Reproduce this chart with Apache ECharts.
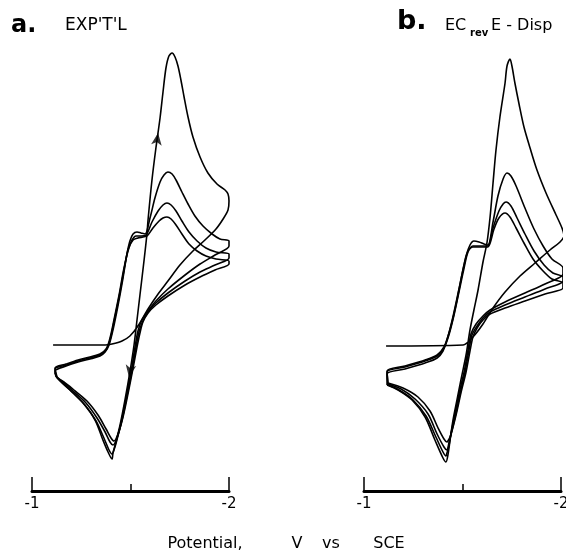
<!DOCTYPE html>
<html><head><meta charset="utf-8">
<script src="https://cdn.jsdelivr.net/npm/echarts@6/dist/echarts.min.js"></script>
<style>html,body{margin:0;padding:0;background:#fff}#c{width:566px;height:555px}</style>
</head><body><div id="c"></div>
<script>
// x: potential (V vs SCE), y: current (arbitrary units, cathodic up)
const potentialTicks = [-1, -2];

// Panel a: experimental
const expScan1 = [[-1.107,0],[-1.371,0],[-1.406,1],[-1.457,4],[-1.497,9],[-1.538,19],[-1.589,36],[-1.640,51],[-1.690,64],[-1.751,80],[-1.812,93],[-1.878,105],[-1.934,116],[-1.970,126],[-1.995,135],[-2.000,144],[-1.995,151],[-1.980,155],[-1.939,161],[-1.893,172],[-1.853,188],[-1.817,208],[-1.792,228],[-1.772,248],[-1.756,265],[-1.741,279],[-1.726,288],[-1.711,292],[-1.695,289],[-1.680,277],[-1.665,253],[-1.650,227],[-1.629,197],[-1.609,165],[-1.589,125],[-1.584,112],[-1.569,85],[-1.548,50],[-1.533,25],[-1.518,0],[-1.497,-27],[-1.472,-55],[-1.447,-80],[-1.426,-97],[-1.411,-108],[-1.406,-114],[-1.386,-107],[-1.360,-95],[-1.320,-75],[-1.259,-58],[-1.193,-45],[-1.142,-36],[-1.117,-29]];
const expCycle2 = [[-1.117,-29],[-1.117,-26],[-1.173,-21],[-1.234,-17],[-1.294,-14],[-1.345,-11],[-1.371,-7],[-1.391,0],[-1.411,15],[-1.437,40],[-1.462,67],[-1.482,91],[-1.497,104],[-1.513,111],[-1.533,113],[-1.553,112],[-1.574,111],[-1.599,127],[-1.624,147],[-1.650,163],[-1.670,170],[-1.690,173],[-1.711,171],[-1.731,165],[-1.761,153],[-1.792,141],[-1.827,129],[-1.868,119],[-1.914,111],[-1.954,106],[-2.000,104],
  [-2.000,99],[-1.929,90],[-1.853,81],[-1.777,70],[-1.690,56],[-1.629,44],[-1.589,34],[-1.558,25],[-1.538,14],[-1.523,-2],[-1.503,-27],[-1.477,-54],[-1.452,-78],[-1.431,-95],[-1.416,-105],[-1.406,-109],[-1.391,-105],[-1.365,-93],[-1.325,-76],[-1.269,-60],[-1.203,-47],[-1.152,-37],[-1.122,-32]];
const expCycle3 = [[-1.122,-32],[-1.117,-24],[-1.173,-20],[-1.234,-16],[-1.294,-13],[-1.345,-10],[-1.376,-5],[-1.396,5],[-1.416,23],[-1.442,48],[-1.467,75],[-1.487,95],[-1.508,105],[-1.528,109],[-1.553,109],[-1.579,110],[-1.609,123],[-1.640,134],[-1.665,140],[-1.685,142],[-1.706,140],[-1.731,134],[-1.761,124],[-1.797,113],[-1.838,104],[-1.883,97],[-1.934,93],[-2.000,91],
  [-2.000,87],[-1.929,80],[-1.853,73],[-1.777,64],[-1.690,52],[-1.629,42],[-1.589,33],[-1.563,24],[-1.543,13],[-1.528,-2],[-1.508,-25],[-1.482,-51],[-1.457,-75],[-1.437,-90],[-1.421,-98],[-1.411,-100],[-1.396,-97],[-1.371,-87],[-1.330,-73],[-1.274,-58],[-1.208,-46],[-1.157,-37],[-1.127,-32]];
const expCycle4 = [[-1.127,-32],[-1.117,-23],[-1.173,-19],[-1.234,-15],[-1.294,-12],[-1.345,-9],[-1.376,-4],[-1.396,7],[-1.416,25],[-1.442,50],[-1.467,77],[-1.492,97],[-1.513,105],[-1.538,107],[-1.563,108],[-1.584,109],[-1.614,117],[-1.645,124],[-1.665,127],[-1.685,128],[-1.706,126],[-1.731,120],[-1.761,111],[-1.797,101],[-1.838,94],[-1.883,89],[-1.934,86],[-2.000,84],
  [-2.000,81],[-1.929,75],[-1.853,68],[-1.777,60],[-1.690,49],[-1.629,40],[-1.589,32],[-1.563,23],[-1.548,12],[-1.533,-2],[-1.513,-23],[-1.487,-49],[-1.462,-72],[-1.442,-86],[-1.426,-94],[-1.416,-96],[-1.401,-93],[-1.376,-84],[-1.335,-70],[-1.279,-56],[-1.213,-45],[-1.162,-37],[-1.127,-33]];
const expArrows = [[-1.640,212],[-1.492,-32]];
const expArrowAngles = [-8, 170];

// Panel b: EC(rev)E-Disp simulation
const dispScan1 = [[-1.112,-1],[-1.503,0],[-1.553,8],[-1.604,21],[-1.655,37],[-1.716,53],[-1.792,69],[-1.868,82],[-1.944,95],[-1.995,103],[-2.015,109],[-2.005,117],[-1.975,130],[-1.924,152],[-1.878,175],[-1.843,197],[-1.812,218],[-1.787,241],[-1.766,262],[-1.751,279],[-1.741,286],[-1.726,279],[-1.716,262],[-1.690,228],[-1.670,195],[-1.655,162],[-1.640,128],[-1.624,102],[-1.604,83],[-1.579,55],[-1.558,35],[-1.538,15],[-1.518,-10],[-1.492,-35],[-1.472,-55],[-1.452,-75],[-1.437,-95],[-1.426,-110],[-1.416,-117],[-1.401,-113],[-1.360,-95],[-1.310,-72],[-1.244,-55],[-1.173,-45],[-1.117,-40]];
const dispCycle2 = [[-1.117,-40],[-1.117,-29],[-1.208,-24],[-1.310,-18],[-1.371,-13],[-1.401,-6],[-1.421,5],[-1.447,23],[-1.472,45],[-1.497,70],[-1.518,89],[-1.538,100],[-1.558,104],[-1.584,103],[-1.609,101],[-1.629,100],[-1.655,123],[-1.680,149],[-1.706,166],[-1.726,172],[-1.746,169],[-1.772,159],[-1.817,137],[-1.863,116],[-1.909,99],[-1.954,86],[-2.010,77],
  [-2.010,71],[-1.919,61],[-1.817,52],[-1.716,43],[-1.640,35],[-1.604,29],[-1.569,21],[-1.543,11],[-1.528,-5],[-1.508,-27],[-1.482,-49],[-1.462,-69],[-1.442,-88],[-1.431,-101],[-1.421,-108],[-1.416,-111],[-1.401,-107],[-1.365,-92],[-1.315,-71],[-1.249,-55],[-1.178,-45],[-1.122,-40]];
const dispCycle3 = [[-1.122,-40],[-1.117,-27],[-1.208,-22],[-1.310,-16],[-1.371,-11],[-1.406,-3],[-1.431,10],[-1.457,30],[-1.482,53],[-1.508,77],[-1.528,93],[-1.553,99],[-1.584,99],[-1.609,99],[-1.629,99],[-1.655,117],[-1.685,134],[-1.706,141],[-1.721,143],[-1.746,139],[-1.777,127],[-1.817,111],[-1.863,94],[-1.914,80],[-1.959,72],[-2.010,68],
  [-2.010,64],[-1.919,56],[-1.817,48],[-1.716,40],[-1.640,33],[-1.604,27],[-1.574,19],[-1.548,10],[-1.533,-5],[-1.513,-27],[-1.487,-49],[-1.467,-68],[-1.447,-85],[-1.431,-98],[-1.421,-105],[-1.406,-102],[-1.371,-89],[-1.325,-69],[-1.259,-54],[-1.188,-44],[-1.122,-39]];
const dispCycle4 = [[-1.122,-39],[-1.117,-26],[-1.208,-21],[-1.310,-15],[-1.371,-10],[-1.406,-2],[-1.431,12],[-1.457,33],[-1.482,56],[-1.508,80],[-1.528,94],[-1.553,98],[-1.584,98],[-1.609,98],[-1.629,98],[-1.660,116],[-1.685,127],[-1.716,132],[-1.741,128],[-1.772,117],[-1.812,102],[-1.858,86],[-1.909,74],[-1.954,66],[-2.010,62],
  [-2.010,57],[-1.919,51],[-1.817,44],[-1.716,37],[-1.640,31],[-1.604,25],[-1.574,17],[-1.553,8],[-1.538,-6],[-1.518,-27],[-1.492,-48],[-1.472,-66],[-1.452,-82],[-1.437,-92],[-1.426,-96],[-1.421,-97],[-1.406,-94],[-1.376,-83],[-1.335,-66],[-1.274,-52],[-1.198,-43],[-1.122,-38]];

const panelLabels = ['a.', 'b.'];
const panelTitles = ["EXP'T'L", 'EC', 'rev', 'E - Disp'];
const axisTitleWords = ['Potential,', 'V', 'vs', 'SCE'];

const chart = echarts.init(document.getElementById('c'), null, {renderer: 'canvas'});
const FONT = '"DejaVu Sans", "Liberation Sans", sans-serif';

function lineSeries(data, idx) {
  return {
    type: 'line', xAxisIndex: idx, yAxisIndex: idx, data: data,
    symbol: 'none', smooth: 0.3, clip: false, silent: true,
    lineStyle: {color: '#000', width: 1.6}
  };
}

const xAxes = [0, 1].map(i => ({
  gridIndex: i, type: 'value', min: -2, max: -1, interval: 1, inverse: true,
  axisLine: {show: true, onZero: false, lineStyle: {color: '#000', width: 3}},
  axisTick: {show: true, inside: true, length: 14, lineStyle: {color: '#000', width: 1.5}},
  minorTick: {show: true, splitNumber: 2, length: 7, lineStyle: {color: '#000', width: 1.5}},
  splitLine: {show: false}, minorSplitLine: {show: false},
  axisLabel: {color: '#000', fontSize: 15, fontFamily: FONT, margin: 6,
    formatter: v => potentialTicks.includes(v) ? String(v) : ''}
}));
const yAxes = [0, 1].map(i => ({gridIndex: i, type: 'value', min: -146, max: 305, show: false}));

const option = {
  animation: false,
  backgroundColor: '#fff',
  grid: [
    {left: 32, width: 197, top: 40, height: 451, containLabel: false, outerBoundsMode: 'none'},
    {left: 364, width: 197, top: 40, height: 451, containLabel: false, outerBoundsMode: 'none'}
  ],
  xAxis: xAxes,
  yAxis: yAxes,
  series: [
    lineSeries(expScan1, 0), lineSeries(expCycle2, 0), lineSeries(expCycle3, 0), lineSeries(expCycle4, 0),
    lineSeries(dispScan1, 1), lineSeries(dispCycle2, 1), lineSeries(dispCycle3, 1), lineSeries(dispCycle4, 1),
    {
      type: 'scatter', xAxisIndex: 0, yAxisIndex: 0, silent: true,
      data: expArrows.map((p, k) => ({value: p, symbolRotate: expArrowAngles[k]})),
      symbol: 'arrow', symbolSize: [8, 12], itemStyle: {color: '#000'}
    }
  ],
  graphic: [
    {type: 'text', style: {x: 11, y: 26, text: panelLabels[0], font: 'bold 24px ' + FONT, fill: '#000', verticalAlign: 'middle'}},
    {type: 'text', style: {x: 65, y: 26, text: panelTitles[0], font: '17px ' + FONT, fill: '#000', verticalAlign: 'middle'}},
    {type: 'text', style: {x: 397, y: 22, text: panelLabels[1], font: 'bold 27px ' + FONT, fill: '#000', verticalAlign: 'middle'}},
    {type: 'text', style: {x: 445, y: 26, text: panelTitles[1], font: '16px ' + FONT, fill: '#000', verticalAlign: 'middle'}},
    {type: 'text', style: {x: 470, y: 33, text: panelTitles[2], font: 'bold 10px ' + FONT, fill: '#000', verticalAlign: 'middle'}},
    {type: 'text', style: {x: 491, y: 26, text: panelTitles[3], font: '16px ' + FONT, fill: '#000', verticalAlign: 'middle'}},
    {type: 'text', style: {x: 205, y: 544, text: axisTitleWords[0], font: '16px ' + FONT, fill: '#000', align: 'center', verticalAlign: 'middle'}},
    {type: 'text', style: {x: 297, y: 544, text: axisTitleWords[1], font: '16px ' + FONT, fill: '#000', align: 'center', verticalAlign: 'middle'}},
    {type: 'text', style: {x: 331, y: 544, text: axisTitleWords[2], font: '16px ' + FONT, fill: '#000', align: 'center', verticalAlign: 'middle'}},
    {type: 'text', style: {x: 389, y: 544, text: axisTitleWords[3], font: '16px ' + FONT, fill: '#000', align: 'center', verticalAlign: 'middle'}}
  ]
};
chart.setOption(option);
</script>
</body></html>
